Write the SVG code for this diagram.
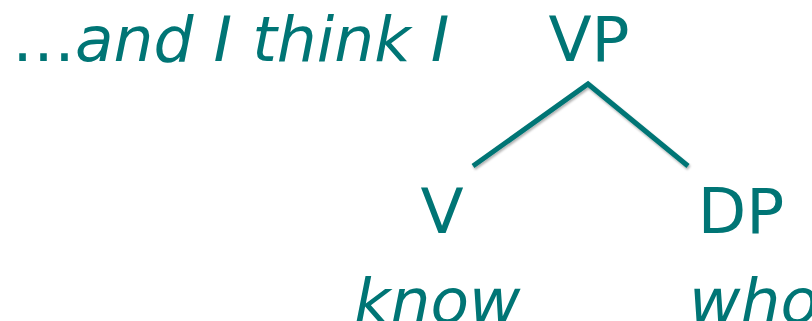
<svg xmlns="http://www.w3.org/2000/svg" width="812" height="321" viewBox="0 0 812 321">
<defs>
<style>
.t{font-family:"DejaVu Sans",Verdana,sans-serif;font-size:63px;fill:#007575}
.i{font-style:italic}
.e{stroke:#007575;stroke-width:5;fill:none;stroke-linecap:butt}
</style>
<filter id="sh" x="-10%" y="-10%" width="120%" height="130%">
<feDropShadow dx="1" dy="2" stdDeviation="1.2" flood-color="#000" flood-opacity="0.3"/>
</filter>
</defs>
<rect width="812" height="321" fill="#fff"/>
<g id="prefix"><text class="t" x="12" y="61">…<tspan class="i">and I think I</tspan></text></g>
<g id="connectors" filter="url(#sh)">
<path class="e" d="M473,166 L588,84 L688,166"/>
</g>
<g id="VP"><text class="t" x="589" y="61" text-anchor="middle">VP</text></g>
<g id="V"><text class="t" x="442" y="233" text-anchor="middle">V</text><text class="t i" x="354" y="323">know</text></g>
<g id="DP"><text class="t" x="741" y="233" text-anchor="middle">DP</text><text class="t i" x="689" y="323">who</text></g>
</svg>
